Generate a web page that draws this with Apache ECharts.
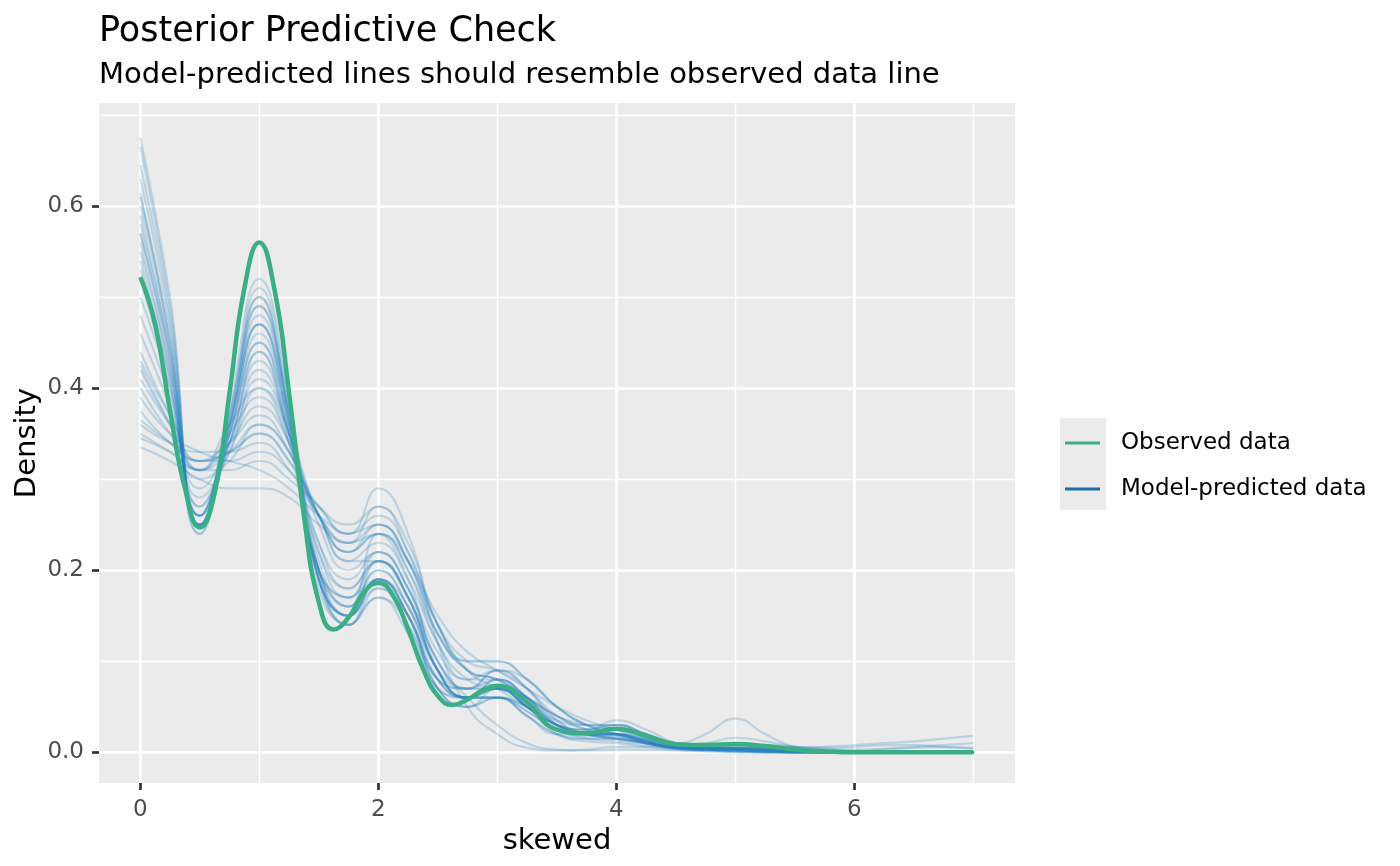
<!DOCTYPE html>
<html>
<head>
<meta charset="utf-8">
<script src="https://cdn.jsdelivr.net/npm/echarts@6/dist/echarts.min.js"></script>
<style>
html,body{margin:0;padding:0;background:#fff;}
#chart{width:1400px;height:866px;}
</style>
</head>
<body>
<div id="chart"></div>
<script>
// ---------- data ----------
const X_TICKS = [0, 2, 4, 6];
const X_MINOR = [1, 3, 5, 7];
const Y_TICKS = [0, 0.2, 0.4, 0.6];
const Y_MINOR = [0.1, 0.3, 0.5, 0.7];

const X_OBS = [0,0.125,0.25,0.375,0.5,0.625,0.75,0.875,1,1.125,1.25,1.375,1.5,1.625,1.75,1.875,2,2.125,2.25,2.375,2.5,2.625,2.75,2.875,3,3.25,3.5,3.75,4,4.25,4.5,4.75,5,5.25,5.5,5.75,6,6.25,6.5,6.75,7];
const Y_OBS = [0.522,0.47,0.375,0.29,0.247,0.285,0.395,0.51,0.56,0.51,0.395,0.26,0.165,0.135,0.148,0.175,0.186,0.172,0.135,0.092,0.062,0.052,0.058,0.068,0.073,0.055,0.025,0.021,0.026,0.018,0.009,0.008,0.009,0.007,0.003,0.001,0,0,0,0,0];

const X_PRED = [0,0.25,0.5,0.75,1,1.25,1.5,1.75,2,2.25,2.5,2.75,3,3.25,3.5,3.75,4,4.25,4.5,4.75,5,5.25,5.5,5.75,6,6.25,6.5,6.75,7];
const draw01 = [0.675,0.50,0.27,0.33,0.42,0.35,0.22,0.17,0.19,0.15,0.08,0.06,0.07,0.05,0.03,0.02,0.02,0.01,0.005,0.004,0.004,0.003,0.002,0.001,0,0,0,0,0];
const draw02 = [0.665,0.49,0.26,0.35,0.45,0.36,0.21,0.16,0.20,0.16,0.09,0.06,0.06,0.04,0.02,0.015,0.015,0.01,0.005,0.003,0.002,0.001,0,0,0,0,0,0,0];
const draw03 = [0.63,0.47,0.25,0.37,0.51,0.38,0.19,0.14,0.19,0.15,0.07,0.05,0.07,0.05,0.025,0.02,0.02,0.012,0.005,0.004,0.004,0.002,0.001,0,0,0,0,0,0];
const draw04 = [0.615,0.45,0.25,0.37,0.50,0.37,0.18,0.14,0.18,0.14,0.07,0.06,0.08,0.06,0.03,0.025,0.03,0.02,0.01,0.008,0.008,0.005,0.002,0.001,0,0,0,0,0];
const draw05 = [0.60,0.45,0.24,0.36,0.48,0.37,0.19,0.15,0.21,0.17,0.09,0.06,0.06,0.04,0.02,0.02,0.02,0.01,0.004,0.003,0.003,0.002,0.001,0,0,0,0,0,0];
const draw06 = [0.59,0.44,0.25,0.35,0.46,0.36,0.20,0.16,0.24,0.19,0.09,0.06,0.07,0.05,0.02,0.012,0.01,0.006,0.003,0.002,0.001,0,0,0,0,0,0,0,0];
const draw07 = [0.58,0.44,0.26,0.36,0.47,0.36,0.19,0.15,0.19,0.15,0.08,0.07,0.09,0.07,0.03,0.02,0.02,0.012,0.005,0.003,0.002,0.001,0,0,0,0,0,0,0];
const draw08 = [0.57,0.43,0.25,0.38,0.52,0.39,0.19,0.14,0.17,0.13,0.07,0.06,0.08,0.06,0.03,0.025,0.035,0.025,0.01,0.005,0.004,0.002,0.001,0,0,0,0,0,0];
const draw09 = [0.56,0.42,0.25,0.36,0.49,0.37,0.19,0.15,0.19,0.15,0.07,0.05,0.06,0.04,0.02,0.015,0.015,0.01,0.005,0.004,0.005,0.004,0.002,0.001,0,0,0,0,0];
const draw10 = [0.55,0.42,0.26,0.35,0.45,0.35,0.20,0.17,0.21,0.17,0.09,0.06,0.06,0.045,0.025,0.015,0.012,0.008,0.004,0.002,0.001,0,0,0,0,0,0,0,0];
const draw11 = [0.54,0.41,0.25,0.37,0.50,0.37,0.19,0.15,0.19,0.15,0.08,0.06,0.07,0.05,0.025,0.018,0.02,0.015,0.008,0.006,0.007,0.005,0.002,0.001,0,0,0,0,0];
const draw12 = [0.53,0.41,0.26,0.34,0.44,0.34,0.20,0.17,0.22,0.18,0.10,0.07,0.07,0.05,0.03,0.02,0.015,0.01,0.004,0.002,0.001,0,0,0,0,0,0,0,0];
const draw13 = [0.52,0.40,0.25,0.36,0.47,0.36,0.20,0.15,0.18,0.15,0.08,0.07,0.09,0.07,0.035,0.02,0.02,0.013,0.006,0.004,0.004,0.003,0.002,0.001,0,0,0,0,0];
const draw14 = [0.44,0.37,0.31,0.36,0.40,0.35,0.26,0.22,0.24,0.20,0.12,0.08,0.07,0.06,0.04,0.03,0.025,0.015,0.008,0.005,0.004,0.003,0.002,0.001,0,0,0,0,0];
const draw15 = [0.43,0.37,0.32,0.34,0.37,0.33,0.26,0.22,0.25,0.21,0.13,0.09,0.08,0.06,0.035,0.02,0.015,0.01,0.005,0.003,0.002,0.001,0,0,0,0,0,0,0];
const draw16 = [0.42,0.36,0.31,0.35,0.39,0.34,0.25,0.20,0.22,0.18,0.11,0.08,0.09,0.08,0.05,0.03,0.02,0.012,0.006,0.004,0.005,0.005,0.004,0.002,0.001,0,0,0,0];
const draw17 = [0.41,0.36,0.32,0.33,0.35,0.32,0.27,0.24,0.26,0.22,0.14,0.09,0.07,0.05,0.03,0.02,0.015,0.01,0.006,0.006,0.008,0.008,0.006,0.004,0.003,0.004,0.006,0.008,0.01];
const draw18 = [0.40,0.35,0.31,0.34,0.38,0.34,0.26,0.21,0.23,0.19,0.12,0.08,0.08,0.06,0.04,0.03,0.03,0.02,0.01,0.006,0.005,0.003,0.002,0.001,0,0,0,0,0];
const draw19 = [0.39,0.35,0.33,0.32,0.31,0.29,0.26,0.24,0.29,0.24,0.12,0.05,0.02,0.005,0.002,0.003,0.006,0.006,0.004,0.003,0.004,0.004,0.003,0.002,0.001,0,0,0,0];
const draw20 = [0.375,0.34,0.32,0.33,0.35,0.32,0.26,0.22,0.24,0.20,0.13,0.10,0.10,0.08,0.05,0.03,0.02,0.012,0.008,0.01,0.016,0.012,0.006,0.003,0.002,0.003,0.005,0.006,0.005];
const draw21 = [0.36,0.34,0.33,0.33,0.34,0.31,0.26,0.23,0.25,0.21,0.14,0.10,0.09,0.07,0.04,0.025,0.02,0.014,0.01,0.02,0.037,0.02,0.006,0.002,0.001,0,0,0,0];
const draw22 = [0.35,0.33,0.31,0.31,0.32,0.30,0.27,0.24,0.25,0.21,0.13,0.09,0.08,0.06,0.04,0.025,0.02,0.014,0.008,0.005,0.005,0.005,0.005,0.006,0.008,0.01,0.012,0.015,0.018];
const draw23 = [0.335,0.32,0.30,0.29,0.29,0.28,0.25,0.23,0.24,0.21,0.15,0.11,0.09,0.07,0.05,0.035,0.025,0.015,0.008,0.004,0.002,0.001,0,0,0,0,0,0,0];
const draw24 = [0.345,0.33,0.31,0.33,0.36,0.33,0.26,0.21,0.21,0.17,0.10,0.06,0.03,0.01,0.003,0.002,0.003,0.003,0.002,0.001,0,0,0,0,0,0,0,0,0];
const draw25 = [0.50,0.40,0.27,0.34,0.43,0.35,0.22,0.18,0.21,0.17,0.09,0.06,0.06,0.045,0.025,0.02,0.02,0.012,0.006,0.004,0.003,0.002,0.001,0,0,0,0,0,0];
const draw26 = [0.48,0.39,0.28,0.33,0.40,0.34,0.23,0.19,0.22,0.18,0.10,0.07,0.07,0.05,0.03,0.02,0.015,0.01,0.005,0.003,0.002,0.001,0,0,0,0,0,0,0];
const draw27 = [0.61,0.46,0.26,0.34,0.44,0.35,0.20,0.16,0.20,0.16,0.08,0.06,0.07,0.05,0.025,0.02,0.025,0.018,0.008,0.005,0.004,0.003,0.001,0,0,0,0,0,0];
const draw28 = [0.645,0.48,0.25,0.36,0.49,0.38,0.20,0.14,0.17,0.14,0.07,0.05,0.06,0.05,0.03,0.025,0.03,0.02,0.009,0.005,0.003,0.002,0.001,0,0,0,0,0,0];
const draw29 = [0.425,0.36,0.30,0.32,0.36,0.33,0.26,0.23,0.27,0.23,0.14,0.09,0.08,0.06,0.03,0.02,0.018,0.012,0.006,0.004,0.004,0.003,0.002,0.001,0,0,0,0,0];
const draw30 = [0.365,0.34,0.32,0.32,0.33,0.31,0.27,0.25,0.27,0.22,0.14,0.10,0.10,0.08,0.05,0.03,0.02,0.01,0.005,0.003,0.004,0.006,0.006,0.005,0.006,0.008,0.008,0.006,0.004];
const draw31 = [0.57,0.43,0.24,0.35,0.47,0.37,0.20,0.15,0.19,0.16,0.09,0.07,0.08,0.06,0.03,0.02,0.018,0.012,0.005,0.003,0.002,0.001,0,0,0,0,0,0,0];
const draw32 = [0.46,0.38,0.29,0.34,0.41,0.35,0.23,0.18,0.21,0.17,0.09,0.06,0.06,0.05,0.035,0.03,0.03,0.02,0.01,0.006,0.005,0.004,0.003,0.002,0.001,0,0,0,0];
const PRED_DRAWS = [draw01,draw02,draw03,draw04,draw05,draw06,draw07,draw08,draw09,draw10,draw11,draw12,draw13,draw14,draw15,draw16,draw17,draw18,draw19,draw20,draw21,draw22,draw23,draw24,draw25,draw26,draw27,draw28,draw29,draw30,draw31,draw32];

// ---------- styles ----------
const GREEN = '#3aaf85';
const BLUE = '#1b6ca8';
const BLUE_LINE = '#2681c0';
const FONT = 'DejaVu Sans';

const series = [];
// gridlines (drawn through the axes' own scales)
series.push({
  type: 'line', name: '_grid', data: [], silent: true, z: 1,
  markLine: {
    silent: true, symbol: 'none', animation: false, z: 1,
    label: {show: false},
    emphasis: {disabled: true},
    data: [
      ...X_MINOR.map(v => ({xAxis: v, lineStyle: {color: '#ffffff', width: 1.4, type: 'solid'}})),
      ...Y_MINOR.map(v => ({yAxis: v, lineStyle: {color: '#ffffff', width: 1.4, type: 'solid'}})),
      ...X_TICKS.map(v => ({xAxis: v, lineStyle: {color: '#ffffff', width: 2.7, type: 'solid'}})),
      ...Y_TICKS.map(v => ({yAxis: v, lineStyle: {color: '#ffffff', width: 2.7, type: 'solid'}}))
    ]
  }
});
PRED_DRAWS.forEach(arr => {
  series.push({
    type: 'line', name: 'Model-predicted data', z: 2,
    data: X_PRED.map((x, i) => [x, arr[i]]),
    smooth: 0.5, symbol: 'none', showSymbol: false,
    color: BLUE,
    lineStyle: {color: BLUE_LINE, width: 2.2, opacity: 0.23},
    emphasis: {disabled: true},
    animation: false
  });
});
series.push({
  type: 'line', name: 'Observed data', z: 3,
  data: X_OBS.map((x, i) => [x, Y_OBS[i]]),
  smooth: 0.5, symbol: 'none', showSymbol: false,
  color: GREEN,
  lineStyle: {color: GREEN, width: 4.5},
  emphasis: {disabled: true},
  animation: false
});

const chart = echarts.init(document.getElementById('chart'), null, {renderer: 'canvas'});
chart.setOption({
  backgroundColor: '#ffffff',
  animation: false,
  textStyle: {fontFamily: FONT},
  title: [
    {text: 'Posterior Predictive Check', left: 94, top: 9,
     textStyle: {fontFamily: FONT, fontSize: 35, fontWeight: 'normal', color: '#000'}},
    {text: 'Model-predicted lines should resemble observed data line', left: 94, top: 56,
     textStyle: {fontFamily: FONT, fontSize: 29, fontWeight: 'normal', color: '#000'}}
  ],
  grid: {left: 99, right: 385, top: 103, bottom: 83, show: true,
         backgroundColor: '#ebebeb', borderWidth: 0, containLabel: false},
  xAxis: {
    type: 'value', min: -0.347, max: 7.35,
    name: 'skewed', nameLocation: 'middle', nameGap: 39,
    nameTextStyle: {fontFamily: FONT, fontSize: 29, color: '#000'},
    axisLine: {show: false, onZero: false},
    axisTick: {show: true, inside: false, length: 7, customValues: X_TICKS,
               lineStyle: {color: '#333333', width: 2.7}},
    axisLabel: {show: true, customValues: X_TICKS, margin: 16,
                fontFamily: FONT, fontSize: 23, color: '#4d4d4d',
                formatter: v => String(v)},
    splitLine: {show: false}
  },
  yAxis: {
    type: 'value', min: -0.0337, max: 0.7132,
    name: 'Density', nameLocation: 'middle', nameGap: 57, nameRotate: 90,
    nameMoveOverlap: false,
    nameTextStyle: {fontFamily: FONT, fontSize: 29, color: '#000'},
    axisLine: {show: false, onZero: false},
    axisTick: {show: true, inside: false, length: 7, customValues: Y_TICKS,
               lineStyle: {color: '#333333', width: 2.7}},
    axisLabel: {show: true, customValues: Y_TICKS, margin: 15,
                fontFamily: FONT, fontSize: 23, color: '#4d4d4d',
                formatter: v => v.toFixed(1)},
    splitLine: {show: false}
  },
  legend: {
    orient: 'vertical', left: 1060, top: 425,
    itemWidth: 35, itemHeight: 3, itemGap: 20, icon: 'rect',
    textStyle: {fontFamily: FONT, fontSize: 23, color: '#000', lineHeight: 26, padding: [0, 0, 0, 16]},
    selectedMode: false,
    data: [
      {name: 'Observed data', itemStyle: {color: GREEN, opacity: 1}},
      {name: 'Model-predicted data', itemStyle: {color: BLUE, opacity: 1}}
    ]
  },
  graphic: [
    {type: 'rect', left: 1060, top: 418, z: -1, silent: true,
     shape: {width: 46, height: 92}, style: {fill: '#ebebeb'}}
  ],
  series: series
});
</script>
</body>
</html>
